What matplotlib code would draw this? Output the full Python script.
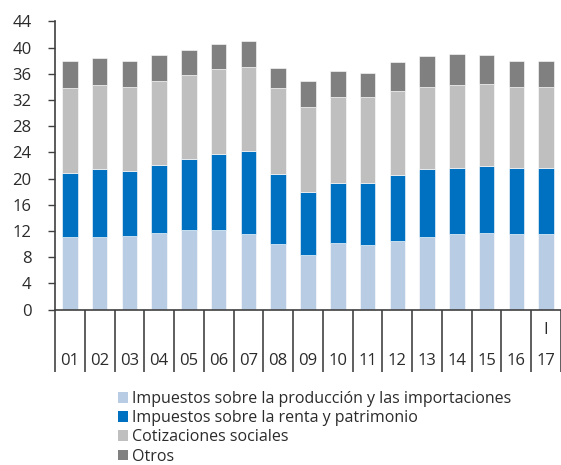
import numpy as np
import matplotlib
matplotlib.use("Agg")
import matplotlib.pyplot as plt
from matplotlib.patches import Patch
from matplotlib import transforms

plt.rcParams['font.family'] = ['Open Sans', 'DejaVu Sans']

# Datos (% del PIB)
years = ["01", "02", "03", "04", "05", "06", "07", "08", "09",
         "10", "11", "12", "13", "14", "15", "16", "17"]
produccion = [11.1, 11.1, 11.3, 11.7, 12.2, 12.2, 11.5, 10.0, 8.4,
              10.2, 9.8, 10.4, 11.1, 11.5, 11.7, 11.5, 11.5]
renta = [9.8, 10.3, 9.8, 10.4, 10.8, 11.6, 12.7, 10.7, 9.5,
         9.2, 9.6, 10.1, 10.3, 10.1, 10.2, 10.1, 10.1]
cotizaciones = [12.9, 12.9, 12.9, 12.8, 12.8, 12.9, 12.9, 13.1, 13.0,
                13.1, 13.1, 12.9, 12.6, 12.7, 12.6, 12.4, 12.4]
otros = [4.2, 4.1, 4.0, 4.0, 3.9, 3.9, 3.9, 3.1, 4.0,
         3.9, 3.7, 4.4, 4.7, 4.8, 4.4, 4.0, 4.0]
yticks = list(range(0, 45, 4))

labels = ["Impuestos sobre la producción y las importaciones",
          "Impuestos sobre la renta y patrimonio",
          "Cotizaciones sociales",
          "Otros"]
colors = ["#B8CCE4", "#0070C0", "#BFBFBF", "#808080"]
series = [produccion, renta, cotizaciones, otros]

fig = plt.figure(figsize=(5.61, 4.65), dpi=100)
ax = fig.add_axes([55 / 561, 155.5 / 465, 506 / 561, 288 / 465])

x = np.arange(len(years))
bottom = np.zeros(len(years))
for vals, col in zip(series, colors):
    ax.bar(x, vals, width=0.52, bottom=bottom, color=col,
           edgecolor="white", linewidth=0.4)
    bottom += np.array(vals)

ax.set_ylim(0, 44)
ax.set_xlim(-0.5, 16.35)
ax.set_yticks(yticks)
ax.tick_params(axis="y", length=5, width=1, color="#404040",
               labelsize=12, pad=12, labelcolor="#2b2b2b")

# separadores de categorías (ticks menores largos)
ax.set_xticks(np.arange(-0.5, len(years), 1), minor=True)
ax.set_xticks(x)
ax.set_xticklabels(years)
ax.tick_params(axis="x", which="major", length=0, pad=31,
               labelsize=12, labelcolor="#2b2b2b")
ax.tick_params(axis="x", which="minor", length=44.5, width=1.1,
               color="#333333")

trans = transforms.blended_transform_factory(ax.transData, ax.transAxes)
ax.text(16, -0.07, "I", transform=trans, ha="center", va="center",
        fontsize=12, color="#2b2b2b")

for s in ["top", "right"]:
    ax.spines[s].set_visible(False)
for s in ["left", "bottom"]:
    ax.spines[s].set_color("#404040")
    ax.spines[s].set_linewidth(1.2)

handles = [Patch(facecolor=c, edgecolor="none") for c in colors]
fig.legend(handles, labels, loc="upper left",
           bbox_to_anchor=(118 / 561, 1 - 391 / 465),
           frameon=False, fontsize=11.5, handlelength=0.65,
           handleheight=0.65, handletextpad=0.2, labelspacing=0.2,
           borderaxespad=0, borderpad=0, labelcolor="#2b2b2b")

fig.savefig("out.png", dpi=100)
